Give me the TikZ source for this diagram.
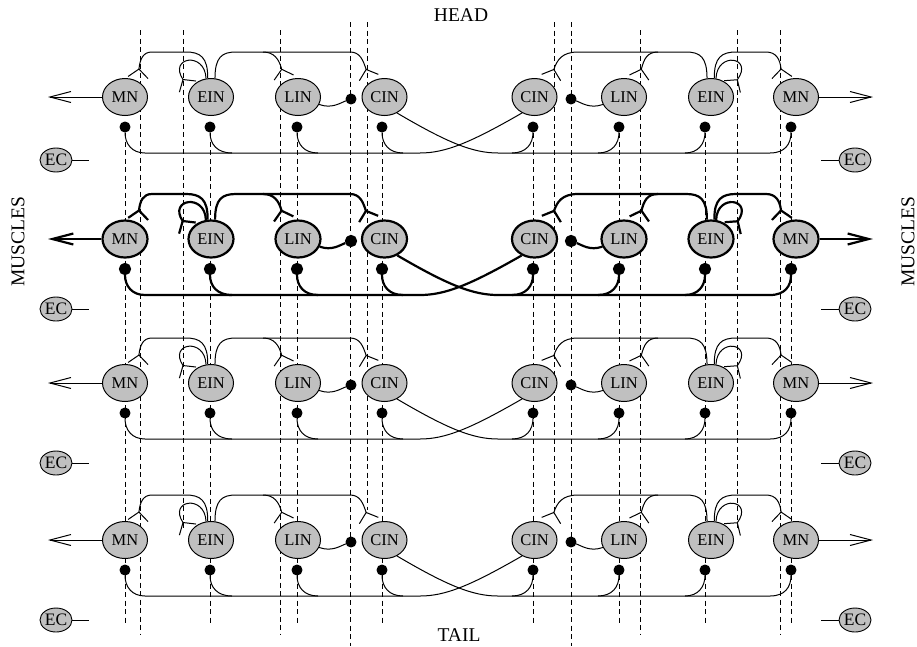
\documentclass[tikz,border=0pt]{standalone}
\usepackage{fontspec}
\setmainfont{Liberation Serif}
\usetikzlibrary{shapes.geometric,arrows.meta}
\definecolor{cellgray}{RGB}{192,192,192}
\tikzset{
  cell/.style={ellipse, draw, fill=cellgray, minimum width=45pt, minimum height=37pt,
    inner sep=0pt, font=\fontsize{16.5}{18}\selectfont},
  ecnode/.style={ellipse, draw, fill=cellgray, line width=0.9pt, minimum width=32pt,
    minimum height=24pt, inner sep=0pt, font=\fontsize{17.5}{18}\selectfont},
  syn/.style={circle, draw, fill=black, minimum size=10pt, inner sep=0pt},
  axon/.style={dash pattern=on 5pt off 3.5pt, line width=0.8pt},
  excit/.style={-{Straight Barb[reversed,length=8.5pt,width=20pt]}},
  motor/.style={-{Straight Barb[length=21pt,width=11pt]}},
  bigtext/.style={font=\fontsize{19.5}{22}\selectfont},
}
\begin{document}
\begin{tikzpicture}[x=1pt,y=-1pt,line join=round]
\useasboundingbox (0,0) rectangle (917,646);

% long axons running through all segments
\foreach \x/\a/\b in {140/30/635, 183/30/531, 280/30/635, 350/22/646, 367/22/510,
                      554/22/510, 571/22/646, 640/30/635, 737/30/531, 780/30/635}
  \draw[axon] (\x,\a) -- (\x,\b);
\foreach \x in {125,210,297,382,533,619,705,791}
  \draw[axon] (\x,133) -- (\x,625);

% labels
\node[bigtext] (head) at (461,15) {HEAD};
\node[bigtext] (tail) at (459,635) {TAIL};
\node[bigtext, rotate=90] (musL) at (18,242) {MUSCLES};
\node[bigtext, rotate=90] (musR) at (908,242) {MUSCLES};

% four segments, the second one highlighted
\foreach \r/\Y/\E/\lw in {1/97/160/1.0, 2/239/309/2.2, 3/383/463/1.0, 4/540/620/1.0}{
\begin{scope}[line width=\lw pt]
  % neurons
  \node[cell] (mnL\r)  at (125,\Y)   {MN};
  \node[cell] (einL\r) at (211,\Y)   {EIN};
  \node[cell] (linL\r) at (298,\Y)   {LIN};
  \node[cell] (cinL\r) at (384.5,\Y) {CIN};
  \node[cell] (cinR\r) at (534.5,\Y) {CIN};
  \node[cell] (linR\r) at (624,\Y)   {LIN};
  \node[cell] (einR\r) at (711,\Y)   {EIN};
  \node[cell] (mnR\r)  at (796,\Y)   {MN};
  % inhibitory synapses
  \node[syn] (iMnL\r)  at (125,\Y+30) {};
  \node[syn] (iEinL\r) at (210,\Y+30) {};
  \node[syn] (iLinL\r) at (297,\Y+30) {};
  \node[syn] (iCinL\r) at (382,\Y+30) {};
  \node[syn] (iCinR\r) at (533,\Y+30) {};
  \node[syn] (iLinR\r) at (619,\Y+30) {};
  \node[syn] (iEinR\r) at (705,\Y+30) {};
  \node[syn] (iMnR\r)  at (791,\Y+30) {};
  \node[syn] (lL\r) at (351,\Y+2) {};
  \node[syn] (lR\r) at (571,\Y+2) {};
  % edge cells
  \node[ecnode] (ecL\r) at (56,\E)  {EC};
  \node[ecnode] (ecR\r) at (855,\E) {EC};
  \coordinate (eL\r) at (89,\E);
  \coordinate (eR\r) at (821,\E);
  \draw[line width=0.9pt] (ecL\r) -- (eL\r);
  \draw[line width=0.9pt] (ecR\r) -- (eR\r);
  % motor output
  \coordinate (oL\r) at (48,\Y);
  \coordinate (oR\r) at (873,\Y);
  \draw[motor] (mnL\r) -- (oL\r);
  \draw[motor] (mnR\r) -- (oR\r);
  % LIN -> CIN inhibition
  \draw (linL\r) .. controls (332,\Y+12) and (340,\Y+6) .. (lL\r);
  \draw (linR\r) .. controls (590,\Y+12) and (582,\Y+6) .. (lR\r);
  % crossed CIN axons and their branches
  \coordinate (bL0\r) at (145,\Y+56);
  \coordinate (bL1\r) at (232,\Y+56);
  \coordinate (bL2\r) at (318,\Y+56);
  \coordinate (bL3\r) at (403,\Y+56);
  \coordinate (bL4\r) at (420,\Y+56);
  \coordinate (bR4\r) at (498,\Y+56);
  \coordinate (bR3\r) at (512,\Y+56);
  \coordinate (bR2\r) at (598,\Y+56);
  \coordinate (bR1\r) at (685,\Y+56);
  \coordinate (bR0\r) at (770,\Y+56);
  \draw (cinR\r.-128) .. controls (470,\Y+46) and (445,\Y+56) .. (bL4\r) -- (bL0\r)
        .. controls (132,\Y+56) and (125,\Y+47) .. (iMnL\r);
  \draw (cinL\r.-52) .. controls (448,\Y+46) and (473,\Y+56) .. (bR4\r) -- (bR0\r)
        .. controls (785,\Y+56) and (791,\Y+47) .. (iMnR\r);
  \draw (iEinL\r) .. controls (210,\Y+47) and (217,\Y+56) .. (bL1\r);
  \draw (iLinL\r) .. controls (297,\Y+47) and (304,\Y+56) .. (bL2\r);
  \draw (iCinL\r) .. controls (382,\Y+47) and (389,\Y+56) .. (bL3\r);
  \draw (iCinR\r) .. controls (533,\Y+47) and (526,\Y+56) .. (bR3\r);
  \draw (iLinR\r) .. controls (619,\Y+47) and (612,\Y+56) .. (bR2\r);
  \draw (iEinR\r) .. controls (705,\Y+47) and (698,\Y+56) .. (bR1\r);
  % EIN excitation
  \coordinate (xMnL\r)  at (138,\Y-19);
  \coordinate (xEinL\r) at (188,\Y-10);
  \coordinate (xLinL\r) at (284,\Y-19);
  \coordinate (xCinL\r) at (369,\Y-19);
  \coordinate (jL\r)    at (263,\Y-45);
  \draw[excit] (einL\r.100) .. controls (208,\Y-40) and (200,\Y-45) .. (186,\Y-45)
        -- (152,\Y-45) .. controls (143,\Y-45) and (140,\Y-38) .. (xMnL\r);
  \draw[excit] (einL\r.105) .. controls (205,\Y-46) and (168,\Y-40) .. (xEinL\r);
  \draw[excit] (einL\r.78) .. controls (215,\Y-40) and (222,\Y-45) .. (236,\Y-45)
        -- (350,\Y-45) .. controls (360,\Y-45) and (363,\Y-37) .. (xCinL\r);
  \draw[excit] (jL\r) .. controls (274,\Y-45) and (279,\Y-38) .. (xLinL\r);
  \coordinate (xCinR\r) at (551,\Y-19);
  \coordinate (xLinR\r) at (639,\Y-19);
  \coordinate (xEinR\r) at (732,\Y-10);
  \coordinate (xMnR\r)  at (782,\Y-19);
  \coordinate (jR\r)    at (658,\Y-45);
  \draw[excit] (einR\r.102) .. controls (707,\Y-40) and (700,\Y-45) .. (686,\Y-45)
        -- (578,\Y-45) .. controls (562,\Y-45) and (557,\Y-37) .. (xCinR\r);
  \draw[excit] (jR\r) .. controls (647,\Y-45) and (644,\Y-38) .. (xLinR\r);
  \draw[excit] (einR\r.80) .. controls (714,\Y-40) and (722,\Y-45) .. (736,\Y-45)
        -- (766,\Y-45) .. controls (776,\Y-45) and (780,\Y-38) .. (xMnR\r);
  \draw[excit] (einR\r.75) .. controls (717,\Y-46) and (754,\Y-40) .. (xEinR\r);
\end{scope}
}
\end{tikzpicture}
\end{document}
